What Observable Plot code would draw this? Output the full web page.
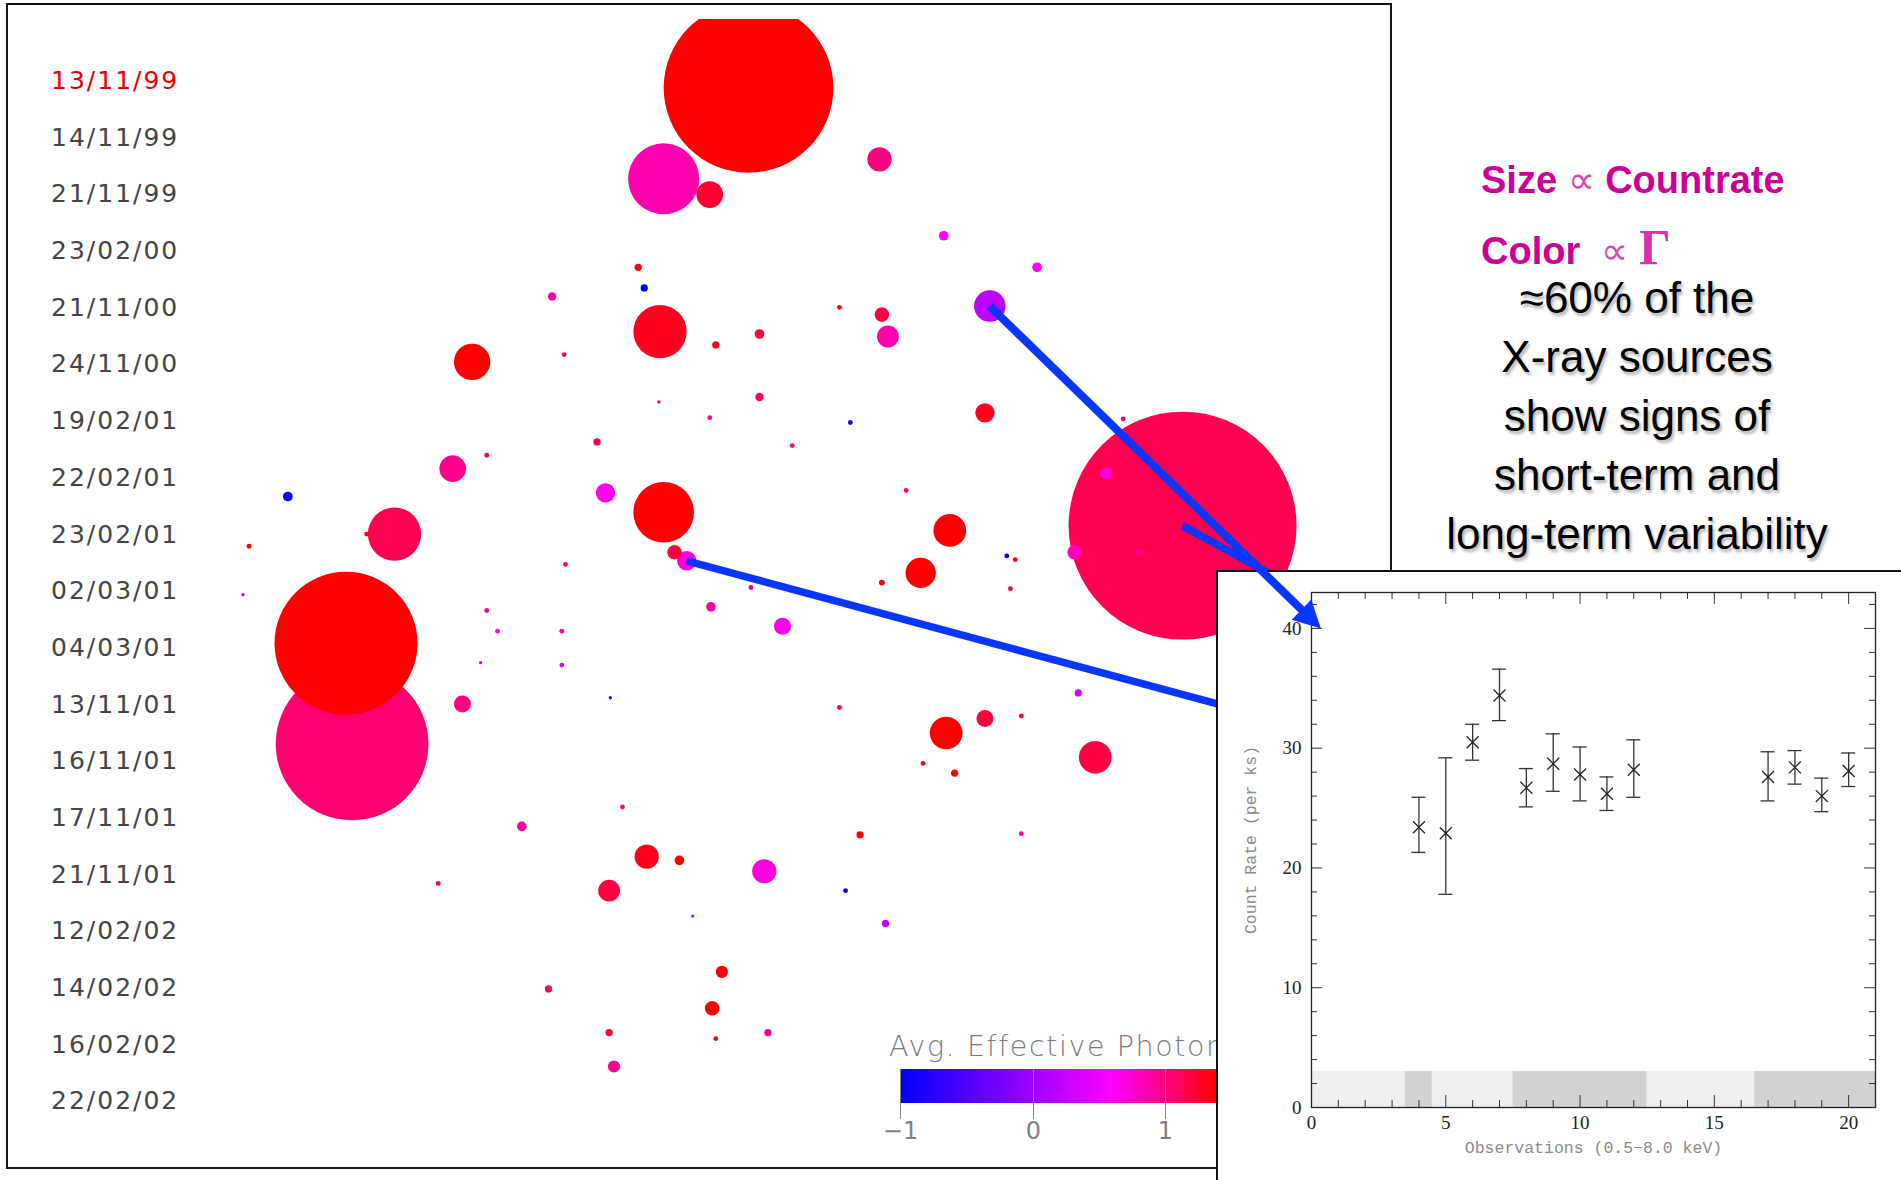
<!DOCTYPE html>
<html>
<head>
<meta charset="utf-8">
<script src="https://cdn.jsdelivr.net/npm/d3@7"></script>
<script src="https://cdn.jsdelivr.net/npm/@observablehq/plot@0.6"></script>
<style>
html, body { margin: 0; padding: 0; background: #fff; }
#page { position: relative; width: 1901px; height: 1180px; overflow: hidden; background: #fff; font-family: "Liberation Sans", Arial, sans-serif; }
.abs { position: absolute; }
#mainFrame { left: 6px; top: 3px; width: 1382px; height: 1162px; border: 2px solid #151515; }
#dates { left: 51px; top: 53px; font-family: "DejaVu Sans"; font-size: 25px; letter-spacing: 2px; color: #444; }
#dates div { height: 56.7px; line-height: 56.7px; white-space: nowrap; }
#mainLayer, #overlay { left: 0; top: 0; }
#overlay { pointer-events: none; }
#cbarLabel { left: 889px; top: 1033px; font-family: "DejaVu Sans"; font-weight: 200; font-size: 28.5px; line-height: 28px; letter-spacing: 1.6px; color: #7a7a7a; white-space: nowrap; }
#cbar { left: 886px; top: 1024px; }
.cbar .tick line { display: none; }
.cbar text { font-family: "DejaVu Sans" !important; font-weight: 200; font-size: 24px !important; fill: #808080; }
#sizeTxt, #colorTxt { left: 1481px; font-weight: bold; font-size: 38px; line-height: 38px; color: #cc0099; white-space: nowrap; }
#sizeTxt { top: 161px; }
#colorTxt { top: 228px; }
.prop { font-weight: normal; color: #d84aa8; }
.gam { font-family: "Liberation Serif", serif; font-weight: bold; font-size: 50px; color: #d633aa; }
#blurb { left: 1387px; top: 268px; width: 500px; text-align: center; font-size: 44px; line-height: 59px; color: #000; text-shadow: 2px 3px 3px rgba(0,0,0,0.3); }
#inset { left: 1216px; top: 570px; width: 683px; height: 608px; border: 2px solid #111; background: #fff; }
</style>
</head>
<body>
<div id="page">
  <div id="mainFrame" class="abs"></div>
  <div id="dates" class="abs"></div>
  <div id="mainLayer" class="abs"></div>
  <div id="cbarLabel" class="abs">Avg. Effective Photon Index</div>
  <div id="cbar" class="abs"></div>
  <div id="sizeTxt" class="abs">Size <span class="prop">∝</span> Countrate</div>
  <div id="colorTxt" class="abs">Color&nbsp; <span class="prop">∝</span> <span class="gam">Γ</span></div>
  <div id="blurb" class="abs">≈60% of the<br>X-ray sources<br>show signs of<br>short-term and<br>long-term variability</div>
  <div id="inset" class="abs"></div>
  <div id="overlay" class="abs"></div>
</div>
<script>
// ---------------- Data ----------------
// Observation dates listed down the left of the source map
const obsDates = ["13/11/99","14/11/99","21/11/99","23/02/00","21/11/00","24/11/00","19/02/01","22/02/01","23/02/01","02/03/01","04/03/01","13/11/01","16/11/01","17/11/01","21/11/01","12/02/02","14/02/02","16/02/02","22/02/02"];
const currentDate = "13/11/99";

// X-ray sources: map position (map units), count rate, average effective photon index Γ
const srcX = [617,547,585,725,778,855,526,531,455,816,544,727,732,692,626,590,389,465,626,812,543,492,373,401,237,499,547,325,556,566,783,759,975,285,290,645,586,205,200,401,410,463,463,381,780,812,903,787,761,889,842,727,692,709,842,430,533,560,502,630,697,730,595,587,452,502,590,633,506,361,571,513,830,837,833,747,701,653,585,619,912,886,939,466,302,926,503,396];
const srcY = [72,147,160,131,194,220,220,237,244,252,273,259,277,253,275,284,298,292,327,340,331,364,386,375,409,406,422,440,455,462,437,472,433,530,613,516,500,450,490,503,520,520,548,580,604,592,624,637,629,571,590,480,583,688,687,681,706,709,734,718,734,761,801,831,815,851,856,851,879,728,755,665,458,461,485,404,348,367,344,484,390,455,455,465,440,345,575,546];
const srcRate = [49.0,8.6,1.21,1.0,0.16,0.16,0.09,0.09,0.12,1.69,4.84,0.36,0.81,0.04,0.16,0.09,2.25,0.04,0.12,0.64,0.02,0.09,1.21,0.04,0.16,0.64,6.25,4.84,0.36,0.64,1.82,1.56,88.4,34.8,39.7,0.49,0.16,0.04,0.02,0.04,0.04,0.04,0.04,0.49,1.82,0.49,1.82,0.09,0.04,0.09,0.04,0.06,0.04,0.09,0.04,0.16,1.0,0.16,0.81,1.0,0.04,0.09,0.25,0.36,0.09,0.09,0.04,0.09,0.25,0.04,0.02,0.04,0.04,0.04,0.04,0.04,0.04,0.04,0.04,0.04,0.25,0.36,0.04,0.04,0.04,0.04,0.02,0.02];
const srcGamma = [1.6,0.85,1.25,1.0,0.6,0.6,1.4,-1,0.9,0.2,1.3,1.2,0.85,1.4,1.2,1.3,1.6,1.1,1.1,1.3,1.0,1.2,0.95,1.2,-1,0.65,1.6,1.15,1.2,0.7,1.5,1.6,1.15,1.6,1.05,0.65,0.9,1.4,0.3,1.0,0.6,0.9,0.4,1.0,1.6,1.2,1.2,1.5,1.3,0.3,1.2,1.5,1.1,1.4,0.9,0.9,1.3,1.5,1.2,0.7,-1,0.2,1.5,1.5,1.1,1.2,1.4,1.0,0.95,1.2,0.3,1.0,-1,1.4,1.3,1.1,-0.8,1.0,0.9,1.1,0.7,0.8,0.8,1.1,1.5,1.0,-0.7,0.4];

// Colour-bar ticks
const gammaTicks = [-1, 0, 1, 2];

// Light curve of the highlighted source
const lcObs  = [4, 5, 6, 7, 8, 9, 10, 11, 12, 17, 18, 19, 20];
const lcRate = [23.4, 22.9, 30.5, 34.4, 26.7, 28.7, 27.8, 26.2, 28.2, 27.6, 28.4, 26.0, 28.1];
const lcLo   = [21.3, 17.8, 29.0, 32.3, 25.1, 26.4, 25.6, 24.8, 25.9, 25.6, 27.0, 24.7, 26.8];
const lcHi   = [25.9, 29.2, 32.0, 36.6, 28.3, 31.2, 30.1, 27.6, 30.7, 29.7, 29.8, 27.5, 29.6];
const epochStart = [0, 3.5, 4.5, 7.5, 12.5, 16.5];
const epochEnd   = [3.5, 4.5, 7.5, 12.5, 16.5, 21];
const epochTone  = ["light", "dark", "light", "dark", "light", "dark"];
const epochBarTop = 3;
const lcXTicks = [0, 5, 10, 15, 20];
const lcYTicks = [0, 10, 20, 30, 40];

// Pointers from sources: index of source, and where it points
const pointerSrc  = [9, 29, 32];
const pointerEndX = [null, 1100, 1080];   // hidden ends (under the inset)
const pointerEndY = [null, 606, 491];
const arrowTarget = {obs: 0.35, rate: 40}; // first pointer lands on the light curve

// ---------------- Build ----------------
const BLUE = "#0836ff";
const sources = srcX.map((x, i) => ({x, y: srcY[i], rate: srcRate[i], gamma: srcGamma[i]}));

const gammaRamp = d3.scaleLinear([-1, 0.6, 1.4], ["#0000ff", "#ff00ff", "#ff0000"]).clamp(true);
const gammaColor = {type: "linear", domain: [-1, 2.5], interpolate: t => gammaRamp(-1 + t * 3.5)};

// dates
d3.select("#dates").selectAll("div").data(obsDates).join("div")
  .text(d => d).style("color", d => d === currentDate ? "#e80000" : null);

function mapPlot(marks) {
  return Plot.plot({
    width: 1901, height: 1180,
    marginTop: 19, marginLeft: 8, marginRight: 512, marginBottom: 15,
    x: {domain: [0, 1568], range: [0, 1901], axis: null},
    y: {domain: [0, 973], range: [0, 1180], axis: null},
    r: {type: "sqrt", domain: [0, 100], range: [0, 121.24]},
    color: gammaColor,
    style: {background: "transparent", overflow: "visible"},
    marks
  });
}

const hiddenPointers = pointerSrc.slice(1).map((s, k) => ({
  x1: srcX[s], y1: srcY[s], x2: pointerEndX[k + 1], y2: pointerEndY[k + 1]
}));

const mainSvg = mapPlot([
  Plot.dot(sources, {x: "x", y: "y", r: "rate", fill: "gamma", clip: true}),
  Plot.link(hiddenPointers, {x1: "x1", y1: "y1", x2: "x2", y2: "y2", stroke: BLUE, strokeWidth: 7.5})
]);
document.getElementById("mainLayer").appendChild(mainSvg);

// colour bar
const cbar = Plot.legend({
  color: gammaColor, legend: "ramp",
  width: 498, height: 127, marginLeft: 14, marginRight: 20, marginTop: 45, marginBottom: 48,
  ticks: gammaTicks, tickSize: 16, tickFormat: d3.format("d"), className: "cbar",
  style: {background: "transparent", overflow: "visible", fontFamily: "DejaVu Sans", fontSize: "24px", color: "#808080"}
});
document.getElementById("cbar").appendChild(cbar);

// inset light curve
const lcData = lcObs.map((o, i) => ({obs: o, rate: lcRate[i], lo: lcLo[i], hi: lcHi[i]}));
const epochs = epochStart.map((s, i) => ({x1: s, x2: epochEnd[i], tone: epochTone[i]}));
const IW = 683, IH = 608, IML = 93, IMR = 26, IMT = 20, IMB = 73;
const plotW = IW - IML - IMR, plotH = IH - IMT - IMB;
const xMinor = d3.range(1, 21).filter(v => v % 5 !== 0);
const yMinor = d3.range(2, 43, 2).filter(v => v % 10 !== 0);
const tickCol = "#333";

const insetSvg = Plot.plot({
  width: IW, height: IH, marginLeft: IML, marginRight: IMR, marginTop: IMT, marginBottom: IMB,
  x: {domain: [0, 21]}, y: {domain: [0, 43]},
  style: {background: "white", fontFamily: "Liberation Serif", fontSize: "19px", color: "#222"},
  marks: [
    Plot.rect(epochs, {x1: "x1", x2: "x2", y1: 0, y2: epochBarTop, fill: d => d.tone === "dark" ? "#d2d2d2" : "#efefef"}),
    Plot.ruleX(xMinor, {x: d => d, insetTop: plotH - 7, stroke: tickCol}),
    Plot.ruleX(lcXTicks, {x: d => d, insetTop: plotH - 12, stroke: tickCol}),
    Plot.ruleX(xMinor, {x: d => d, insetBottom: plotH - 7, stroke: tickCol}),
    Plot.ruleX(lcXTicks, {x: d => d, insetBottom: plotH - 12, stroke: tickCol}),
    Plot.ruleY(yMinor, {y: d => d, insetRight: plotW - 6, stroke: tickCol}),
    Plot.ruleY(lcYTicks, {y: d => d, insetRight: plotW - 11, stroke: tickCol}),
    Plot.ruleY(yMinor, {y: d => d, insetLeft: plotW - 6, stroke: tickCol}),
    Plot.ruleY(lcYTicks, {y: d => d, insetLeft: plotW - 11, stroke: tickCol}),
    Plot.frame({stroke: "#222", strokeWidth: 1.3}),
    Plot.axisX(lcXTicks, {tickSize: 0, tickPadding: 8, label: null}),
    Plot.axisY(lcYTicks, {tickSize: 0, tickPadding: 10, label: null}),
    Plot.text(["Count Rate (per ks)"], {text: d => d, frameAnchor: "left", textAnchor: "middle", dx: -61, dy: -10, rotate: -90, fontFamily: "Liberation Mono", fontSize: 16.5, fill: "#8a8a8a"}),
    Plot.text(["Observations (0.5\u22128.0 keV)"], {text: d => d, frameAnchor: "bottom", dy: 45, fontFamily: "Liberation Mono", fontSize: 16.5, fill: "#8a8a8a"}),
    Plot.ruleX(lcData, {x: "obs", y1: "lo", y2: "hi", stroke: "#333", strokeWidth: 1.3}),
    Plot.ruleY(lcData, {y: "lo", x1: "obs", x2: "obs", insetLeft: -7, insetRight: -7, stroke: "#333", strokeWidth: 1.3}),
    Plot.ruleY(lcData, {y: "hi", x1: "obs", x2: "obs", insetLeft: -7, insetRight: -7, stroke: "#333", strokeWidth: 1.3}),
    Plot.dot(lcData, {x: "obs", y: "rate", symbol: "times", r: 5.5, stroke: "#222", strokeWidth: 1.3})
  ]
});
document.getElementById("inset").appendChild(insetSvg);

// arrow from the highlighted source to the light curve (drawn on top)
const ir = insetSvg.getBoundingClientRect();
const tipPx = [ir.left + insetSvg.scale("x").apply(arrowTarget.obs), ir.top + insetSvg.scale("y").apply(arrowTarget.rate)];
const mx = mainSvg.scale("x"), my = mainSvg.scale("y");
const s0 = pointerSrc[0];
const srcPx = [mx.apply(srcX[s0]), my.apply(srcY[s0])];
const dxp = tipPx[0] - srcPx[0], dyp = tipPx[1] - srcPx[1];
const len = Math.hypot(dxp, dyp);
const ux = dxp / len, uy = dyp / len;
const headLen = 27;
const lineEndPx = [tipPx[0] - ux * (headLen - 6), tipPx[1] - uy * (headLen - 6)];
const arrow = {
  x1: srcX[s0], y1: srcY[s0],
  x2: mx.invert(lineEndPx[0]), y2: my.invert(lineEndPx[1]),
  tx: mx.invert(tipPx[0]), ty: my.invert(tipPx[1]),
  angle: Math.atan2(dyp, dxp) * 180 / Math.PI + 90
};
const headShape = {draw(context, l, r) { context.moveTo(0, -l); context.lineTo(-r, 0); context.lineTo(r, 0); context.closePath(); }};
const overlaySvg = mapPlot([
  Plot.link([arrow], {x1: "x1", y1: "y1", x2: "x2", y2: "y2", stroke: BLUE, strokeWidth: 8}),
  Plot.vector([arrow], {x: "tx", y: "ty", rotate: arrow.angle, length: headLen, r: 14, anchor: "end", shape: headShape, fill: BLUE, stroke: "none"})
]);
document.getElementById("overlay").appendChild(overlaySvg);
</script>
</body>
</html>
